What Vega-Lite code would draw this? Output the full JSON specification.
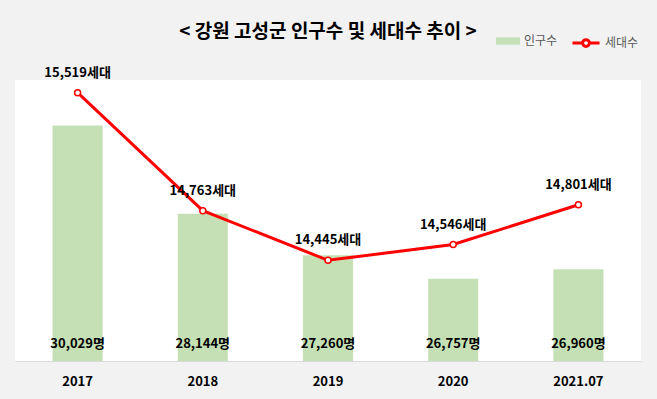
{
  "$schema": "https://vega.github.io/schema/vega-lite/v6.json",
  "width": 626,
  "height": 281,
  "autosize": {"type": "none"},
  "padding": {"left": 15, "top": 80, "right": 16, "bottom": 38},
  "background": "#f2f2f2",
  "title": {
    "text": "< 강원 고성군 인구수 및 세대수 추이 >",
    "fontSize": 19,
    "fontWeight": "bold",
    "font": "Noto Sans CJK KR",
    "color": "#000000",
    "offset": -14
  },
  "config": {
    "view": {"fill": "white", "stroke": null},
    "font": "Noto Sans CJK KR"
  },
  "data": {
    "values": [
      {"year": "2017", "pop": 30029, "hh": 15519},
      {"year": "2018", "pop": 28144, "hh": 14763},
      {"year": "2019", "pop": 27260, "hh": 14445},
      {"year": "2020", "pop": 26757, "hh": 14546},
      {"year": "2021.07", "pop": 26960, "hh": 14801}
    ]
  },
  "transform": [
    {"calculate": "format(datum.pop, ',') + '명'", "as": "popLabel"},
    {"calculate": "format(datum.hh, ',') + '세대'", "as": "hhLabel"}
  ],
  "encoding": {
    "x": {
      "field": "year",
      "type": "ordinal",
      "sort": null,
      "scale": {"paddingInner": 0.6, "paddingOuter": 0.3},
      "axis": {
        "title": null,
        "labelAngle": 0,
        "labelFontSize": 13,
        "labelFontWeight": "bold",
        "labelColor": "#000000",
        "labelPadding": 14,
        "ticks": false,
        "domainColor": "#d9d9d9",
        "domainWidth": 1,
        "grid": false
      }
    }
  },
  "layer": [
    {
      "encoding": {
        "y": {
          "field": "pop",
          "type": "quantitative",
          "scale": {"domain": [25000, 31000], "nice": false, "zero": false},
          "axis": null
        }
      },
      "layer": [
        {
          "mark": {"type": "bar", "clip": true},
          "encoding": {
            "fill": {
              "datum": "인구수",
              "scale": {"range": ["#c5e0b4"]},
              "legend": {
                "title": null,
                "orient": "none",
                "legendX": 481,
                "legendY": -51,
                "padding": 0,
                "symbolType": "M-1,-0.3H1V0.3H-1Z",
                "symbolSize": 576,
                "symbolStrokeWidth": 0,
                "labelFontSize": 12,
                "labelColor": "#595959",
                "labelOffset": 4,
                "labelFont": "Noto Sans CJK KR"
              }
            }
          }
        },
        {
          "mark": {
            "type": "text",
            "fontSize": 13,
            "fontWeight": "bold",
            "color": "#000000",
            "baseline": "middle",
            "dy": -17
          },
          "encoding": {
            "y": {"datum": 25000},
            "text": {"field": "popLabel"}
          }
        }
      ]
    },
    {
      "encoding": {
        "y": {
          "field": "hh",
          "type": "quantitative",
          "scale": {"domain": [13800, 15600], "nice": false, "zero": false},
          "axis": null
        }
      },
      "layer": [
        {
          "mark": {"type": "line", "strokeWidth": 3},
          "encoding": {
            "stroke": {
              "datum": "세대수",
              "scale": {"range": ["#ff0000"]},
              "legend": {
                "title": null,
                "orient": "none",
                "legendX": 556,
                "legendY": -52,
                "padding": 0,
                "symbolType": "M-1,0H-0.25M0.25,0H1M-0.25,0A0.25,0.25 0 1,1 0.25,0A0.25,0.25 0 1,1 -0.25,0",
                "symbolSize": 729,
                "symbolStrokeWidth": 3,
                "symbolFillColor": "#ffffff",
                "labelFontSize": 12,
                "labelColor": "#595959",
                "labelOffset": 4,
                "labelFont": "Noto Sans CJK KR"
              }
            }
          }
        },
        {
          "mark": {
            "type": "point",
            "shape": "circle",
            "filled": true,
            "fill": "#ffffff",
            "stroke": "#ff0000",
            "strokeWidth": 1.5,
            "size": 36,
            "opacity": 1
          }
        },
        {
          "mark": {
            "type": "text",
            "fontSize": 13,
            "fontWeight": "bold",
            "color": "#000000",
            "baseline": "middle",
            "dy": -20
          },
          "encoding": {
            "text": {"field": "hhLabel"}
          }
        }
      ]
    }
  ],
  "resolve": {"scale": {"y": "independent"}}
}
